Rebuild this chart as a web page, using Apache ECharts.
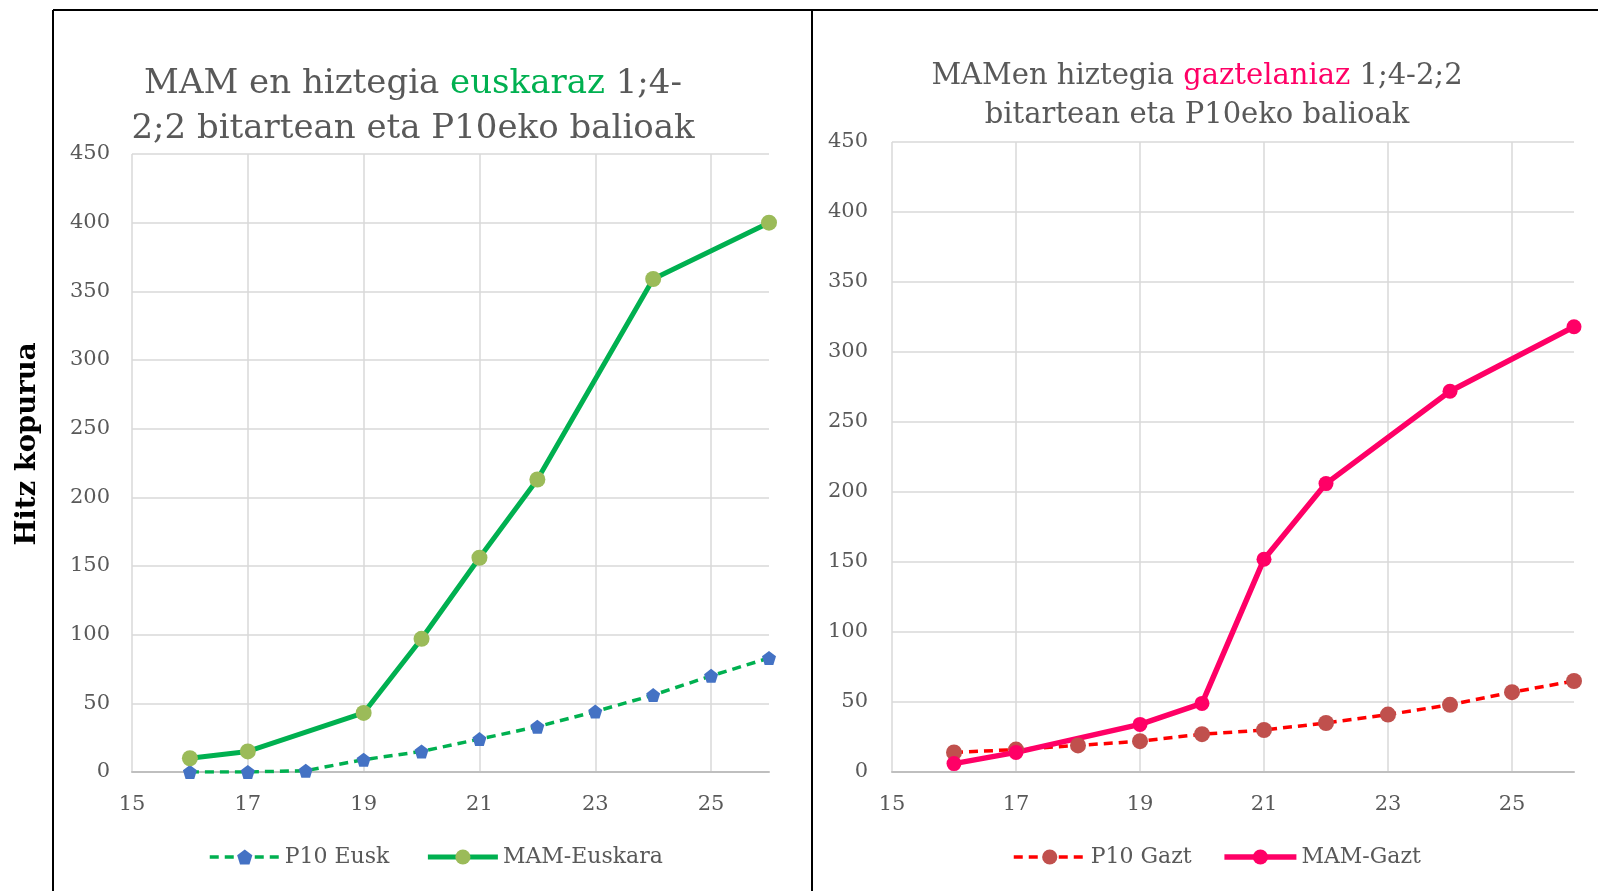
<!DOCTYPE html>
<html>
<head>
<meta charset="utf-8">
<script src="https://cdn.jsdelivr.net/npm/echarts@6/dist/echarts.min.js"></script>
<style>
  html, body { margin: 0; padding: 0; background: #fff; }
  #main { width: 1598px; height: 891px; }
</style>
</head>
<body>
<div id="main"></div>
<script>
// adinak (hilabeteak) eta balioak
var p10Ages = [16, 17, 18, 19, 20, 21, 22, 23, 24, 25, 26];
var mamAges = [16, 17, 19, 20, 21, 22, 24, 26];
var p10Eusk = [0, 0, 1, 9, 15, 24, 33, 44, 56, 70, 83];
var mamEuskara = [10, 15, 43, 97, 156, 213, 359, 400];
var p10Gazt = [14, 16, 19, 22, 27, 30, 35, 41, 48, 57, 65];
var mamGazt = [6, 14, 34, 49, 152, 206, 272, 318];

function pairs(xs, ys) {
  return xs.map(function (x, i) { return [x, ys[i]]; });
}

var FONT = 'DejaVu Serif';
var pentagon = 'path://M0,-10 L9.5,-3.1 L5.9,8.1 L-5.9,8.1 L-9.5,-3.1 Z';

function xAxisOpt(idx) {
  return {
    type: 'value', gridIndex: idx, min: 15, max: 26, interval: 1,
    axisLine: { show: true, lineStyle: { color: '#bfbfbf', width: 2 } },
    axisTick: { show: false },
    axisLabel: {
      color: '#595959', fontFamily: FONT, fontSize: 21, margin: 22,
      formatter: function (v) { return v % 2 === 1 && v < 26 ? String(v) : ''; }
    },
    splitLine: { show: true, lineStyle: { color: ['#d9d9d9', 'rgba(0,0,0,0)'], width: 1.5 } }
  };
}
function yAxisOpt(idx, margin) {
  return {
    type: 'value', gridIndex: idx, min: 0, max: 450, interval: 50,
    axisLine: { show: false }, axisTick: { show: false },
    axisLabel: { color: '#595959', fontFamily: FONT, fontSize: 21, margin: margin },
    splitLine: { lineStyle: { color: '#d9d9d9', width: 1.5 } }
  };
}

var legendText = { fontFamily: FONT, fontSize: 22, color: '#595959' };

var chart = echarts.init(document.getElementById('main'));
chart.setOption({
  animation: false,
  backgroundColor: '#fff',
  title: [{
    text: '{a|MAM en hiztegia }{g|euskaraz}{a| 1;4-}\n{a|2;2 bitartean eta P10eko balioak}',
    left: 408, top: 57, textAlign: 'center',
    textStyle: {
      rich: {
        a: { fontFamily: FONT, fontSize: 34, fontWeight: 'normal', color: '#595959', lineHeight: 45 },
        g: { fontFamily: FONT, fontSize: 34, fontWeight: 'normal', color: '#00b050', lineHeight: 45 }
      }
    }
  }, {
    text: '{a|MAMen hiztegia }{g|gaztelaniaz}{a| 1;4-2;2}\n{a|bitartean eta P10eko balioak}',
    left: 1192, top: 52, textAlign: 'center',
    textStyle: {
      rich: {
        a: { fontFamily: FONT, fontSize: 29, fontWeight: 'normal', color: '#595959', lineHeight: 39 },
        g: { fontFamily: FONT, fontSize: 29, fontWeight: 'normal', color: '#ff0066', lineHeight: 39 }
      }
    }
  }],
  legend: [{
    left: 203, top: 841,
    data: ['P10 Eusk', 'MAM-Euskara'],
    itemWidth: 70, itemHeight: 19, itemGap: 36,
    lineStyle: { width: 'inherit' },
    textStyle: legendText
  }, {
    left: 1007, top: 841,
    data: ['P10 Gazt', 'MAM-Gazt'],
    itemWidth: 72, itemHeight: 19, itemGap: 30,
    lineStyle: { width: 'inherit' },
    textStyle: legendText
  }],
  grid: [
    { left: 132, right: 829, top: 154, bottom: 119 },
    { left: 892, right: 24, top: 142, bottom: 119 }
  ],
  xAxis: [xAxisOpt(0), xAxisOpt(1)],
  yAxis: [yAxisOpt(0, 22), yAxisOpt(1, 24)],
  graphic: [
    { type: 'line', shape: { x1: 53, y1: 10, x2: 1598, y2: 10 }, style: { stroke: '#000', lineWidth: 2 } },
    { type: 'line', shape: { x1: 53, y1: 10, x2: 53, y2: 891 }, style: { stroke: '#000', lineWidth: 2 } },
    { type: 'line', shape: { x1: 812, y1: 10, x2: 812, y2: 891 }, style: { stroke: '#000', lineWidth: 2 } },
    {
      type: 'text', x: 28, y: 444, rotation: Math.PI / 2,
      style: {
        text: 'Hitz kopurua', fontFamily: FONT, fontSize: 27.5, fontWeight: 'bold',
        fill: '#000', align: 'center', verticalAlign: 'middle'
      }
    }
  ],
  series: [{
    name: 'P10 Eusk', type: 'line', xAxisIndex: 0, yAxisIndex: 0,
    data: pairs(p10Ages, p10Eusk),
    symbol: pentagon, symbolSize: 14,
    itemStyle: { color: '#4472c4' },
    lineStyle: { color: '#00b050', width: 3.5, type: [9, 6] }
  }, {
    name: 'MAM-Euskara', type: 'line', xAxisIndex: 0, yAxisIndex: 0,
    data: pairs(mamAges, mamEuskara),
    symbol: 'circle', symbolSize: 16,
    itemStyle: { color: '#9bbb59' },
    lineStyle: { color: '#00b050', width: 5 }
  }, {
    name: 'P10 Gazt', type: 'line', xAxisIndex: 1, yAxisIndex: 1,
    data: pairs(p10Ages, p10Gazt),
    symbol: 'circle', symbolSize: 16,
    itemStyle: { color: '#c0504d' },
    lineStyle: { color: '#ff0000', width: 3.5, type: [9, 6] }
  }, {
    name: 'MAM-Gazt', type: 'line', xAxisIndex: 1, yAxisIndex: 1,
    data: pairs(mamAges, mamGazt),
    symbol: 'circle', symbolSize: 15,
    itemStyle: { color: '#ff0066' },
    lineStyle: { color: '#ff0066', width: 5.5 }
  }]
});
</script>
</body>
</html>
